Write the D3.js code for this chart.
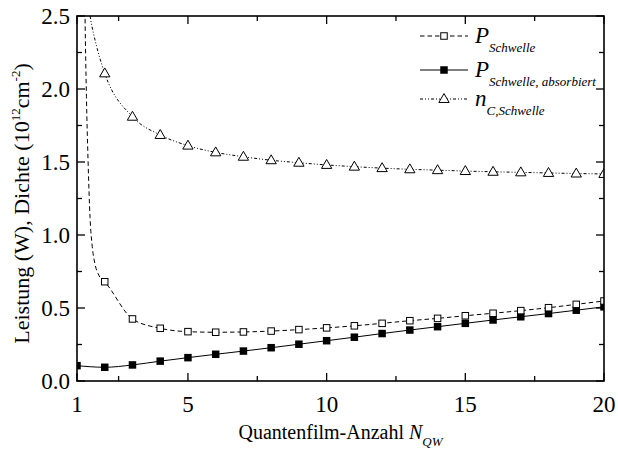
<!DOCTYPE html>
<html>
<head>
<meta charset="utf-8">
<script src="https://cdn.jsdelivr.net/npm/d3@7"></script>
<style>
body { margin: 0; background: #fff; }
text { font-family: "Liberation Serif", "Times New Roman", serif; fill: #000; }
</style>
</head>
<body>
<svg id="chart" width="618" height="458"></svg>
<script>
var svg = d3.select('#chart');

// values
const nqw = [1,2,3,4,5,6,7,8,9,10,11,12,13,14,15,16,17,18,19,20];
const pSchwelle = [null,0.68,0.425,0.361,0.338,0.334,0.336,0.342,0.352,0.364,0.378,0.395,0.413,0.429,0.447,0.464,0.482,0.502,0.525,0.548];
const pAbsorbiert = [0.105,0.094,0.110,0.136,0.160,0.183,0.205,0.228,0.252,0.276,0.300,0.325,0.349,0.372,0.395,0.418,0.440,0.462,0.485,0.508];
const nSchwelle = [null,2.107,1.81,1.685,1.612,1.566,1.536,1.512,1.495,1.480,1.468,1.458,1.450,1.444,1.438,1.433,1.429,1.425,1.421,1.418];
// steep part of the curves between the first markers
const pLead = [[1.25,3.2],[1.29,2.5],[1.34,1.95],[1.40,1.5],[1.47,1.12],[1.55,0.92],[1.65,0.80],[1.8,0.72]];
const nLead = [[1.35,2.65],[1.47,2.5],[1.71,2.29],[1.89,2.17]];

const xMajor = [1,5,10,15,20];
const xMinor = [2.5,7.5,12.5,17.5];
const yMajor = [0,0.5,1.0,1.5,2.0,2.5];
const yMinor = [0.25,0.75,1.25,1.75,2.25];

const margin = {left: 77, right: 14, top: 16, bottom: 77};
const W = +svg.attr('width'), H = +svg.attr('height');

const x = d3.scaleLinear().domain([1,20]).range([margin.left, W - margin.right]);
const y = d3.scaleLinear().domain([0,2.5]).range([H - margin.bottom, margin.top]);

svg.append('clipPath').attr('id','clip')
  .append('rect')
    .attr('x', x(1)).attr('y', y(2.5))
    .attr('width', x(20)-x(1)).attr('height', y(0)-y(2.5));

const plot = svg.append('g').attr('clip-path','url(#clip)');

const pts = arr => nqw.map((n,i)=>[n, arr[i]]).filter(d => d[1] != null);
const line = d3.line().x(d=>x(d[0])).y(d=>y(d[1])).curve(d3.curveMonotoneX);

// lines
plot.append('path').datum(pLead.concat(pts(pSchwelle)))
  .attr('d', line).attr('fill','none').attr('stroke','#000')
  .attr('stroke-width',1).attr('stroke-dasharray','4.5,3');
plot.append('path').datum(pts(pAbsorbiert))
  .attr('d', line).attr('fill','none').attr('stroke','#000').attr('stroke-width',1);
plot.append('path').datum(nLead.concat(pts(nSchwelle)))
  .attr('d', line).attr('fill','none').attr('stroke','#000')
  .attr('stroke-width',1).attr('stroke-dasharray','3,2,1,2,1,2');

// markers
const sq = 7.5;
plot.selectAll('.abs').data(pts(pAbsorbiert)).enter().append('rect')
  .attr('x', d=>x(d[0])-sq/2).attr('y', d=>y(d[1])-sq/2)
  .attr('width', sq).attr('height', sq).attr('fill','#000');
plot.selectAll('.ps').data(pts(pSchwelle)).enter().append('rect')
  .attr('x', d=>x(d[0])-sq/2+0.5).attr('y', d=>y(d[1])-sq/2+0.5)
  .attr('width', sq-1).attr('height', sq-1)
  .attr('fill','#fff').attr('stroke','#000').attr('stroke-width',1);
const tri = d3.symbol().type(d3.symbolTriangle).size(46);
plot.selectAll('.nc').data(pts(nSchwelle)).enter().append('path')
  .attr('d', tri)
  .attr('transform', d=>'translate('+x(d[0])+','+(y(d[1])+0.5)+')')
  .attr('fill','#fff').attr('stroke','#000').attr('stroke-width',1);

// frame and ticks (inward, mirrored)
const g = svg.append('g');
g.append('rect')
  .attr('x', x(1)).attr('y', y(2.5))
  .attr('width', x(20)-x(1)).attr('height', y(0)-y(2.5))
  .attr('fill','none').attr('stroke','#000').attr('stroke-width',1.6);

const tickLen = (major) => major ? 8 : 5;
[[xMajor,true],[xMinor,false]].forEach(([vals,maj])=>{
  vals.forEach(v=>{
    g.append('line').attr('x1',x(v)).attr('x2',x(v))
      .attr('y1',y(0)).attr('y2',y(0)-tickLen(maj))
      .attr('stroke','#000').attr('stroke-width',1.3);
    g.append('line').attr('x1',x(v)).attr('x2',x(v))
      .attr('y1',y(2.5)).attr('y2',y(2.5)+tickLen(maj))
      .attr('stroke','#000').attr('stroke-width',1.3);
  });
});
[[yMajor,true],[yMinor,false]].forEach(([vals,maj])=>{
  vals.forEach(v=>{
    g.append('line').attr('y1',y(v)).attr('y2',y(v))
      .attr('x1',x(1)).attr('x2',x(1)+tickLen(maj))
      .attr('stroke','#000').attr('stroke-width',1.3);
    g.append('line').attr('y1',y(v)).attr('y2',y(v))
      .attr('x1',x(20)).attr('x2',x(20)-tickLen(maj))
      .attr('stroke','#000').attr('stroke-width',1.3);
  });
});

// tick labels
g.selectAll('.xl').data(xMajor).enter().append('text')
  .attr('x', d=>x(d)).attr('y', y(0)+31)
  .attr('text-anchor','middle').style('font-size','23px')
  .text(d=>d);
g.selectAll('.yl').data(yMajor).enter().append('text')
  .attr('x', x(1)-7).attr('y', d=>y(d)+8)
  .attr('text-anchor','end').style('font-size','23px')
  .text(d=>d.toFixed(1));

// axis titles
const xt = g.append('text')
  .attr('x', (x(1)+x(20))/2).attr('y', 439)
  .attr('text-anchor','middle').style('font-size','20px');
xt.append('tspan').text('Quantenfilm-Anzahl ');
xt.append('tspan').style('font-style','italic').text('N');
xt.append('tspan').style('font-style','italic').style('font-size','13px')
  .attr('dy', 7).text('QW');

const yt = g.append('text')
  .attr('transform','translate(29,'+((y(0)+y(2.5))/2+5)+') rotate(-90)')
  .attr('text-anchor','middle').style('font-size','22px');
yt.append('tspan').text('Leistung (W), Dichte (10');
yt.append('tspan').style('font-size','13px').attr('dy',-9).text('12');
yt.append('tspan').attr('dy',9).text('cm');
yt.append('tspan').style('font-size','13px').attr('dy',-9).text('-2');
yt.append('tspan').attr('dy',9).text(')');

// legend
const legend = svg.append('g');
const legRows = [
  {y: 36, dash: '4.5,3', marker: 'open', main: 'P', sub: 'Schwelle'},
  {y: 70, dash: null, marker: 'filled', main: 'P', sub: 'Schwelle, absorbiert'},
  {y: 99, dash: '3,2,1,2,1,2', marker: 'tri', main: 'n', sub: 'C,Schwelle'}
];
legRows.forEach(r=>{
  legend.append('line').attr('x1',420).attr('x2',468).attr('y1',r.y).attr('y2',r.y)
    .attr('stroke','#000').attr('stroke-width',1)
    .attr('stroke-dasharray', r.dash);
  if (r.marker === 'open') {
    legend.append('rect').attr('x',444-3.25).attr('y',r.y-3.25).attr('width',6.5).attr('height',6.5)
      .attr('fill','#fff').attr('stroke','#000');
  } else if (r.marker === 'filled') {
    legend.append('rect').attr('x',444-sq/2).attr('y',r.y-sq/2).attr('width',sq).attr('height',sq)
      .attr('fill','#000');
  } else {
    legend.append('path').attr('d', tri).attr('transform','translate(444,'+(r.y+0.5)+')')
      .attr('fill','#fff').attr('stroke','#000');
  }
  const t = legend.append('text').attr('x',475).attr('y',r.y+7)
    .style('font-style','italic').style('font-size','23px');
  t.append('tspan').text(r.main);
  t.append('tspan').style('font-size','13px').attr('dy',9).text(r.sub);
});
</script>
</body>
</html>
